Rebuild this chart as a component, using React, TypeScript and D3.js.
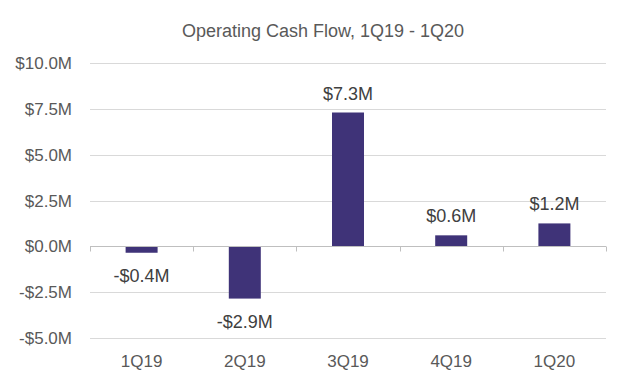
import React, { useRef, useEffect } from 'react';
import * as d3 from 'd3';

const quarters = ['1Q19', '2Q19', '3Q19', '4Q19', '1Q20'];
const cashFlow = [-0.35, -2.85, 7.3, 0.6, 1.25];
const valueLabels = ['-$0.4M', '-$2.9M', '$7.3M', '$0.6M', '$1.2M'];
const yTicks = [-5, -2.5, 0, 2.5, 5, 7.5, 10];

const W = 628;
const H = 384;

const App = () => {
    const svgRef = useRef(null);

    useEffect(() => {
        const margin = { top: 63, right: 22, bottom: 46, left: 90 };
        const font = 'Arial, "Liberation Sans", sans-serif';
        const textColor = '#595959';

        d3.select(svgRef.current).selectAll('*').remove();

        const svg = d3.select(svgRef.current)
            .attr('width', W)
            .attr('height', H);

        svg.append('rect').attr('width', W).attr('height', H).attr('fill', '#fff');

        const x = d3.scaleBand()
            .domain(quarters)
            .range([margin.left, W - margin.right])
            .paddingInner(0.69)
            .paddingOuter(0.345);

        const band = d3.scaleBand()
            .domain(quarters)
            .range([margin.left, W - margin.right]);

        const y = d3.scaleLinear()
            .domain([-5, 10])
            .range([H - margin.bottom, margin.top]);

        // title
        svg.append('text')
            .attr('x', (margin.left + W - margin.right) / 2 - 25)
            .attr('y', 37)
            .attr('text-anchor', 'middle')
            .attr('font-family', font)
            .attr('font-size', 18)
            .attr('fill', textColor)
            .text('Operating Cash Flow, 1Q19 - 1Q20');

        // gridlines
        svg.append('g')
            .selectAll('line')
            .data(yTicks.filter((t) => t !== 0))
            .enter()
            .append('line')
            .attr('x1', margin.left)
            .attr('x2', W - margin.right)
            .attr('y1', (d) => Math.round(y(d)) + 0.5)
            .attr('y2', (d) => Math.round(y(d)) + 0.5)
            .attr('stroke', '#d9d9d9')
            .attr('stroke-width', 1);

        // y labels
        svg.append('g')
            .selectAll('text')
            .data(yTicks)
            .enter()
            .append('text')
            .attr('x', 72)
            .attr('y', (d) => y(d))
            .attr('dy', '0.36em')
            .attr('text-anchor', 'end')
            .attr('font-family', font)
            .attr('font-size', 17)
            .attr('fill', textColor)
            .text((d) => (d < 0 ? '-' : '') + '$' + Math.abs(d).toFixed(1) + 'M');

        // bars
        svg.append('g')
            .selectAll('rect')
            .data(cashFlow)
            .enter()
            .append('rect')
            .attr('x', (d, i) => x(quarters[i]))
            .attr('y', (d) => y(Math.max(0, d)))
            .attr('width', x.bandwidth())
            .attr('height', (d) => Math.abs(y(d) - y(0)))
            .attr('fill', '#3f3378');

        // zero axis with ticks at band edges
        const zeroY = Math.round(y(0)) + 0.5;
        const axis = svg.append('g').attr('stroke', '#bfbfbf');
        axis.append('line')
            .attr('x1', margin.left)
            .attr('x2', W - margin.right)
            .attr('y1', zeroY)
            .attr('y2', zeroY);
        const edges = quarters.map((q) => band(q)).concat([W - margin.right]);
        axis.selectAll('line.tick')
            .data(edges)
            .enter()
            .append('line')
            .attr('class', 'tick')
            .attr('x1', (d) => Math.round(d) + 0.5)
            .attr('x2', (d) => Math.round(d) + 0.5)
            .attr('y1', zeroY)
            .attr('y2', zeroY + 5);

        // value labels
        svg.append('g')
            .selectAll('text')
            .data(cashFlow)
            .enter()
            .append('text')
            .attr('x', (d, i) => x(quarters[i]) + x.bandwidth() / 2)
            .attr('y', (d) => (d >= 0 ? y(d) - 13 : y(d) + 29))
            .attr('text-anchor', 'middle')
            .attr('font-family', font)
            .attr('font-size', 18)
            .attr('fill', '#404040')
            .text((d, i) => valueLabels[i]);

        // x labels
        svg.append('g')
            .selectAll('text')
            .data(quarters)
            .enter()
            .append('text')
            .attr('x', (d) => band(d) + band.bandwidth() / 2)
            .attr('y', 367)
            .attr('text-anchor', 'middle')
            .attr('font-family', font)
            .attr('font-size', 17)
            .attr('fill', textColor)
            .text((d) => d);
    }, []);

    return (
        <svg ref={svgRef} style={{ position: 'absolute', left: 0, top: 0 }}></svg>
    );
};

export default App;
